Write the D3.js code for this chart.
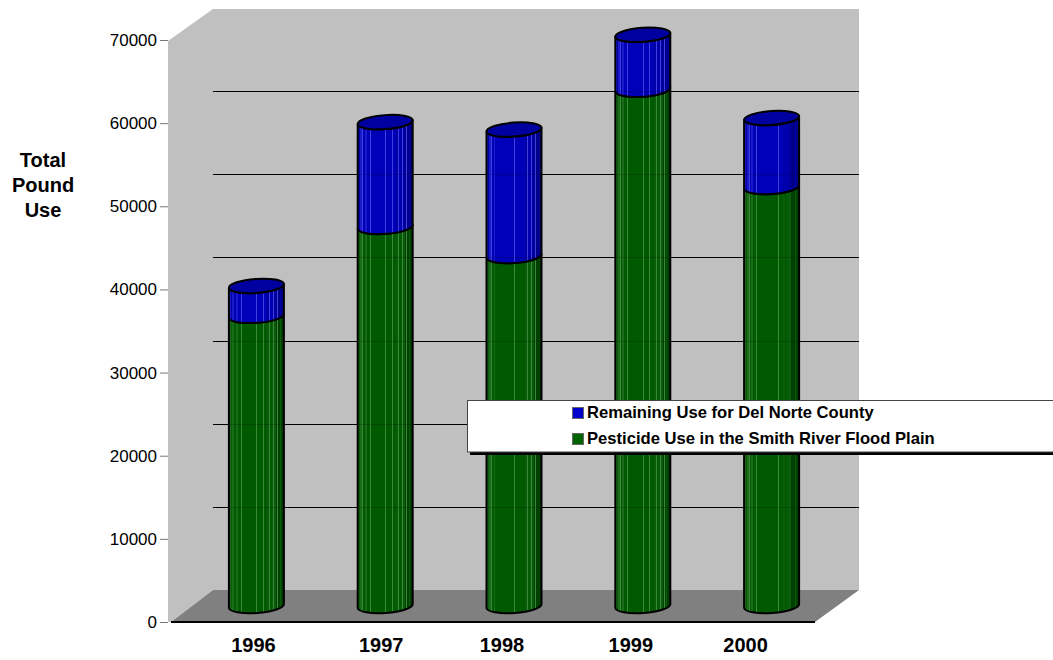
<!DOCTYPE html>
<html>
<head>
<meta charset="utf-8">
<script src="https://cdn.jsdelivr.net/npm/d3@7"></script>
<style>
  html, body { margin: 0; padding: 0; background: #fff; }
  svg { display: block; font-family: "Liberation Sans", Arial, sans-serif; }
</style>
</head>
<body>
<svg id="chart" width="1053" height="660"></svg>
<script>
// Pesticide use, Del Norte County, in pounds
const years = ["1996", "1997", "1998", "1999", "2000"];
const floodPlainUse = [34900, 45600, 42100, 62100, 50400];
const remainingUse = [3600, 12600, 15200, 6600, 8300];
const yTicks = [0, 10000, 20000, 30000, 40000, 50000, 60000, 70000];
const gridTicks = [10000, 20000, 30000, 40000, 50000, 60000];
const axisTitle = ["Total", "Pound", "Use"];
const legendLabels = ["Remaining Use for Del Norte County", "Pesticide Use in the Smith River Flood Plain"];
// Hand-set year label shifts, as in the original layout
const yearLabelShift = [-3, -4, -12, -12, -26];

const svg = d3.select("#chart");

const x = d3.scaleBand().domain(years).range([171, 815]);
const y = d3.scaleLinear().domain([0, 70000]).range([622, 40]);

// Oblique projection of the chart box
const wallDx = 45, wallDy = -32, wallLeft = 168, wallRight = 859;
const barDx = 21, barDy = -16, rx = 27.5, ry = 7, tilt = 2;

// Vertical facet shading shared by the cylinders: [start, kind]
const facets = [
  [0, "l"], [0.03, "m"], [0.05, "l"], [0.085, "h"], [0.1, "b"], [0.13, "l"], [0.16, "b"], [0.22, "h"], [0.235, "b"],
  [0.5, "h"], [0.515, "b"], [0.62, "h"], [0.635, "b"], [0.7, "m"], [0.735, "h"], [0.75, "b"], [0.78, "m"], [0.81, "h"],
  [0.825, "m"], [0.86, "d"], [0.88, "h"], [0.895, "d"], [0.93, "m"], [0.945, "d"], [1, "d"]
];
const tones = {
  blue:  { h: "#3f3fe0", l: "#1a1ac8", b: "#0000b8", m: "#0000a4", d: "#000088" },
  green: { h: "#3a8a3a", l: "#1a6c1a", b: "#005a00", m: "#0a5c0a", d: "#004000" }
};
const defs = svg.append("defs");
Object.entries(tones).forEach(([name, tone]) => {
  const g = defs.append("linearGradient").attr("id", "cyl-" + name).attr("x1", 0).attr("x2", 1).attr("y1", 0).attr("y2", 0);
  facets.slice(0, -1).forEach((f, i) => {
    g.append("stop").attr("offset", f[0]).attr("stop-color", tone[f[1]]);
    g.append("stop").attr("offset", facets[i + 1][0]).attr("stop-color", tone[f[1]]);
  });
});

// Back wall with its side panel
svg.append("path")
  .attr("fill", "#c0c0c0")
  .attr("d", d3.line()([
    [wallLeft, y(70000) + 1], [wallLeft + wallDx, y(70000) + wallDy + 1],
    [wallRight, y(70000) + wallDy + 1], [wallRight, y(0) + wallDy],
    [wallLeft + wallDx, y(0) + wallDy], [wallLeft + 3, y(0)], [wallLeft, y(0)]
  ]) + "Z");

// Floor
svg.append("path")
  .attr("fill", "#808080")
  .attr("d", d3.line()([
    [171, y(0)], [171 + 42, y(0) + wallDy], [wallRight, y(0) + wallDy], [815, y(0)]
  ]) + "Z");
svg.append("line").attr("x1", 171).attr("x2", 815).attr("y1", y(0)).attr("y2", y(0))
  .attr("stroke", "#000").attr("stroke-width", 2);

// Gridlines on the back wall
const gridLayer = sel => sel.selectAll("line").data(gridTicks).join("line")
  .attr("x1", wallLeft + wallDx).attr("x2", wallRight)
  .attr("y1", d => Math.round(y(d) + wallDy) + 0.5).attr("y2", d => Math.round(y(d) + wallDy) + 0.5)
  .attr("stroke", "#000").attr("stroke-width", 1);
svg.append("g").call(gridLayer);

// Left axis
const axis = d3.axisLeft(y).tickValues(yTicks).tickSize(8).tickPadding(3).tickFormat(d3.format("d"));
const gAxis = svg.append("g").attr("transform", `translate(${wallLeft},0)`).call(axis);
gAxis.select(".domain").remove();
gAxis.selectAll(".tick line").attr("stroke", "#777");
gAxis.selectAll("text").attr("fill", "#000").attr("font-size", 17).style("font-family", "'Liberation Sans', Arial, sans-serif");

// Cylinder segment between two values; the lower rim bulges toward the viewer
function segment(cx, v0, v1) {
  const yb = y(v0) + barDy, yt = y(v1) + barDy;
  const arc = (x1, y1, sweep) => `A${rx} ${ry} -4 0 ${sweep} ${x1} ${y1}`;
  return `M${cx - rx} ${yt + tilt}L${cx - rx} ${yb + tilt}` + arc(cx + rx, yb - tilt, 0) +
         `L${cx + rx} ${yt - tilt}` + arc(cx - rx, yt + tilt, 1) + "Z";
}
const bars = svg.append("g").selectAll("g").data(years).join("g")
  .attr("stroke", "#000").attr("stroke-width", 2).attr("stroke-linejoin", "round");
const cx = d => x(d) + x.bandwidth() / 2 + barDx;

bars.append("path").attr("fill", "url(#cyl-green)")
  .attr("d", (d, i) => segment(cx(d), 0, floodPlainUse[i]));
bars.append("path").attr("fill", "url(#cyl-blue)")
  .attr("d", (d, i) => segment(cx(d), floodPlainUse[i], floodPlainUse[i] + remainingUse[i]));
bars.append("ellipse").attr("fill", "#0000a0")
  .attr("rx", rx).attr("ry", ry)
  .attr("transform", (d, i) => `translate(${cx(d)},${y(floodPlainUse[i] + remainingUse[i]) + barDy}) rotate(-4)`);

// Gridlines show faintly through the cylinders
svg.append("g").attr("opacity", 0.18).call(gridLayer);

// Year labels
svg.append("g").selectAll("text").data(years).join("text")
  .attr("x", (d, i) => x(d) + x.bandwidth() / 2 + barDx + yearLabelShift[i])
  .attr("y", 652).attr("text-anchor", "middle")
  .attr("font-size", 20).attr("font-weight", "bold").text(d => d);

// Axis title
svg.append("g").selectAll("text").data(axisTitle).join("text")
  .attr("x", 43).attr("y", (d, i) => 167 + i * 25).attr("text-anchor", "middle")
  .attr("font-size", 20).attr("font-weight", "bold").text(d => d);

// Legend box with its drop shadow
const legend = svg.append("g");
legend.append("rect").attr("x", 470).attr("y", 403).attr("width", 590).attr("height", 52).attr("fill", "#000");
legend.append("rect").attr("x", 467.5).attr("y", 400.5).attr("width", 600).attr("height", 51.5)
  .attr("fill", "#fff").attr("stroke", "#444").attr("stroke-width", 1);
const legendColors = ["#0000cc", "#006400"];
const legendItems = legend.selectAll("g.item").data(legendLabels).join("g").attr("class", "item")
  .attr("transform", (d, i) => `translate(572,${407 + i * 26})`);
legendItems.append("rect").attr("x", 0.5).attr("y", 0.5).attr("width", 11).attr("height", 11)
  .attr("fill", (d, i) => legendColors[i]).attr("stroke", "#666");
legendItems.append("text").attr("x", 15).attr("y", 11)
  .attr("font-size", 16.6).attr("font-weight", "bold").text(d => d);
</script>
</body>
</html>
